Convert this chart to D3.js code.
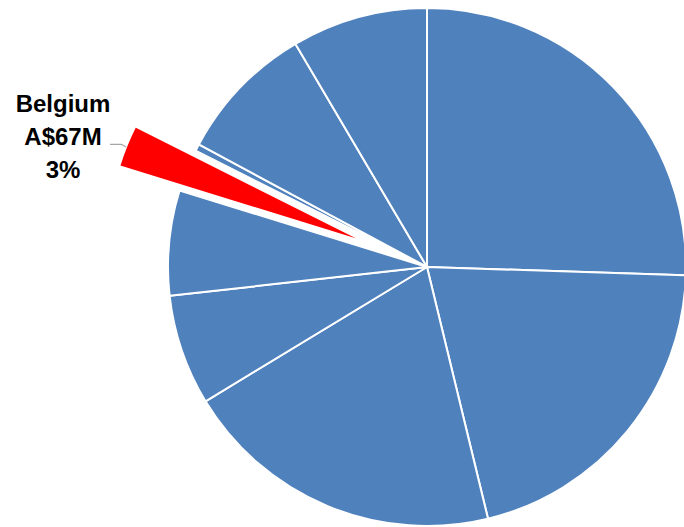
<!DOCTYPE html>
<html>
<head>
<meta charset="utf-8">
<script src="https://cdn.jsdelivr.net/npm/d3@7"></script>
<style>
  html, body { margin: 0; padding: 0; background: #ffffff; }
  svg { display: block; }
</style>
</head>
<body>
<svg id="chart" width="684" height="527"></svg>
<script>
// Data (A$M), clockwise from 12 o'clock
const categories = ["Country 1", "Country 2", "Country 3", "Country 4", "Country 5", "Belgium", "Country 7", "Country 8", "Country 9"];
const values = [647, 525, 510, 175, 166, 67, 11, 220, 215];
const highlighted = "Belgium";
const labelLines = ["Belgium", "A$67M", "3%"];

const svg = d3.select("#chart");
const cx = 427, cy = 267, R = 259;
const explodeDist = 65;

const data = categories.map((c, i) => ({ name: c, value: values[i] }));
const pie = d3.pie().value(d => d.value).sort(null).startAngle(0).endAngle(2 * Math.PI);
const arc = d3.arc().innerRadius(0).outerRadius(R);
const arcs = pie(data);

const g = svg.append("g").attr("transform", `translate(${cx},${cy})`);

g.selectAll("path.slice")
  .data(arcs)
  .join("path")
  .attr("class", "slice")
  .attr("d", arc)
  .attr("fill", d => d.data.name === highlighted ? "#FF0000" : "#4F81BD")
  .attr("stroke", "#ffffff")
  .attr("stroke-width", 2)
  .attr("stroke-linejoin", "round")
  .attr("transform", d => {
    if (d.data.name !== highlighted) return null;
    const a = (d.startAngle + d.endAngle) / 2;
    return `translate(${explodeDist * Math.sin(a)},${-explodeDist * Math.cos(a)})`;
  });

// Label for highlighted slice
const labelX = 63;
const baselines = [111.7, 145, 178.3];
const label = svg.append("text")
  .attr("font-family", "'Liberation Sans', Arial, sans-serif")
  .attr("font-weight", "bold")
  .attr("font-size", 24)
  .attr("fill", "#000000")
  .attr("text-anchor", "middle");
labelLines.forEach((t, i) => {
  label.append("tspan").attr("x", labelX).attr("y", baselines[i]).text(t);
});

// Leader line
svg.append("path")
  .attr("d", d3.line()([[110, 144.3], [121.5, 144.3], [126, 147]]))
  .attr("fill", "none")
  .attr("stroke", "#A6A6A6")
  .attr("stroke-width", 1.3);
</script>
</body>
</html>
